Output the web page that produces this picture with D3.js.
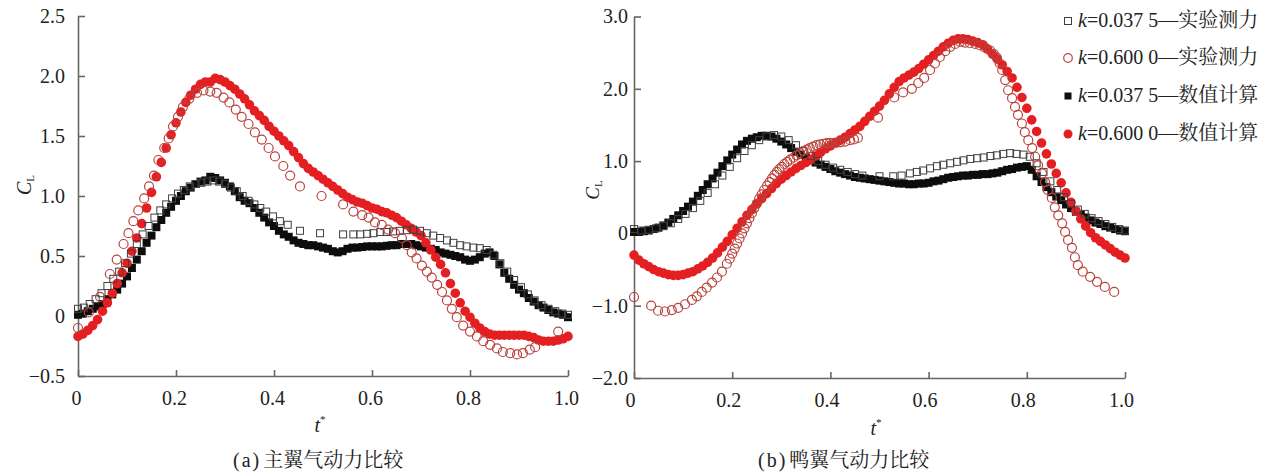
<!DOCTYPE html>
<html>
<head>
<meta charset="utf-8">
<script src="https://cdn.jsdelivr.net/npm/d3@7"></script>
<style>
  body { margin: 0; background: #fff; }
  svg { display: block; }
</style>
</head>
<body>
<svg id="chart" width="1283" height="473"></svg>
<script>
// ---- data -------------------------------------------------------------
// sampling instants of the numerical solution (t*)
const tGrid = [
  0.00, 0.01, 0.02, 0.03, 0.04, 0.05, 0.06, 0.07, 0.08, 0.09,
  0.10, 0.11, 0.12, 0.13, 0.14, 0.15, 0.16, 0.17, 0.18, 0.19,
  0.20, 0.21, 0.22, 0.23, 0.24, 0.25, 0.26, 0.27, 0.28, 0.29,
  0.30, 0.31, 0.32, 0.33, 0.34, 0.35, 0.36, 0.37, 0.38, 0.39,
  0.40, 0.41, 0.42, 0.43, 0.44, 0.45, 0.46, 0.47, 0.48, 0.49,
  0.50, 0.51, 0.52, 0.53, 0.54, 0.55, 0.56, 0.57, 0.58, 0.59,
  0.60, 0.61, 0.62, 0.63, 0.64, 0.65, 0.66, 0.67, 0.68, 0.69,
  0.70, 0.71, 0.72, 0.73, 0.74, 0.75, 0.76, 0.77, 0.78, 0.79,
  0.80, 0.81, 0.82, 0.83, 0.84, 0.85, 0.86, 0.87, 0.88, 0.89,
  0.90, 0.91, 0.92, 0.93, 0.94, 0.95, 0.96, 0.97, 0.98, 0.99,
  1.00
];

// (a) main wing, numerical, k = 0.0375
const mainNumLowK = [
  0.01, 0.02, 0.04, 0.06, 0.08, 0.10, 0.14, 0.18, 0.22, 0.27,
  0.33, 0.40, 0.47, 0.54, 0.61, 0.67, 0.74, 0.80, 0.86, 0.91,
  0.96, 1.00, 1.04, 1.07, 1.10, 1.12, 1.13, 1.16, 1.15, 1.13,
  1.11, 1.08, 1.04, 0.99, 0.96, 0.94, 0.90, 0.86, 0.82, 0.78,
  0.75, 0.71, 0.68, 0.66, 0.63, 0.61, 0.60, 0.59, 0.59, 0.58,
  0.57, 0.56, 0.54, 0.53, 0.54, 0.56, 0.57, 0.57, 0.575, 0.58,
  0.58, 0.58, 0.58, 0.585, 0.59, 0.59, 0.60, 0.60, 0.60, 0.59,
  0.58, 0.57, 0.56, 0.55, 0.53, 0.52, 0.51, 0.50, 0.49, 0.47,
  0.46, 0.47, 0.49, 0.52, 0.53, 0.50, 0.43, 0.36, 0.31, 0.26,
  0.22, 0.19, 0.15, 0.12, 0.09, 0.07, 0.05, 0.03, 0.02, 0.01,
  -0.01
];

// (a) main wing, numerical, k = 0.6000
const mainNumHighK = [
  -0.17, -0.15, -0.12, -0.08, -0.03, 0.04, 0.11, 0.19, 0.27, 0.36,
  0.44, 0.54, 0.65, 0.77, 0.90, 1.03, 1.16, 1.28, 1.40, 1.51,
  1.61, 1.70, 1.78, 1.84, 1.89, 1.93, 1.95, 1.95, 1.98, 1.97,
  1.95, 1.92, 1.89, 1.85, 1.81, 1.76, 1.71, 1.67, 1.63, 1.58,
  1.54, 1.50, 1.46, 1.42, 1.37, 1.32, 1.27, 1.23, 1.20, 1.17,
  1.14, 1.11, 1.08, 1.05, 1.02, 0.99, 0.97, 0.95, 0.94, 0.92,
  0.90, 0.89, 0.87, 0.86, 0.84, 0.82, 0.79, 0.76, 0.73, 0.70,
  0.67, 0.61, 0.55, 0.49, 0.43, 0.36, 0.27, 0.19, 0.11, 0.04,
  -0.01, -0.06, -0.10, -0.13, -0.15, -0.16, -0.16, -0.16, -0.16, -0.16,
  -0.16, -0.16, -0.17, -0.18, -0.20, -0.21, -0.21, -0.21, -0.20, -0.19,
  -0.17
];

// (a) main wing, measured, k = 0.0375   [t*, CL]
const mainExpLowK = [
  [0.000, 0.06], [0.012, 0.07], [0.024, 0.10], [0.036, 0.14], [0.048, 0.19],
  [0.060, 0.25], [0.072, 0.31], [0.084, 0.37], [0.096, 0.44], [0.108, 0.52],
  [0.120, 0.60], [0.132, 0.68], [0.144, 0.75], [0.156, 0.82], [0.168, 0.88],
  [0.180, 0.93], [0.192, 0.98], [0.204, 1.02], [0.216, 1.05], [0.228, 1.08],
  [0.240, 1.10], [0.252, 1.11], [0.264, 1.12], [0.276, 1.13], [0.288, 1.12],
  [0.300, 1.10], [0.312, 1.07], [0.324, 1.04], [0.336, 1.00], [0.348, 0.96],
  [0.360, 0.93], [0.372, 0.90], [0.384, 0.87], [0.398, 0.83], [0.412, 0.79],
  [0.428, 0.76], [0.453, 0.71], [0.494, 0.69], [0.541, 0.68], [0.562, 0.68],
  [0.576, 0.68], [0.590, 0.685], [0.603, 0.69], [0.617, 0.70], [0.630, 0.70],
  [0.643, 0.705], [0.657, 0.71], [0.671, 0.715], [0.684, 0.72], [0.698, 0.71],
  [0.712, 0.69], [0.725, 0.67], [0.739, 0.65], [0.753, 0.63], [0.766, 0.61],
  [0.780, 0.59], [0.793, 0.58], [0.807, 0.57], [0.820, 0.565], [0.834, 0.55],
  [0.848, 0.51], [0.862, 0.44], [0.876, 0.37], [0.890, 0.30], [0.904, 0.24],
  [0.918, 0.18], [0.932, 0.13], [0.946, 0.09], [0.960, 0.06], [0.974, 0.04],
  [0.988, 0.02], [1.000, 0.01]
];

// (a) main wing, measured, k = 0.6000   [t*, CL]
const mainExpHighK = [
  [0.000, -0.10], [0.022, 0.03], [0.045, 0.16], [0.065, 0.35], [0.079, 0.47],
  [0.093, 0.60], [0.103, 0.69], [0.113, 0.79], [0.123, 0.88], [0.135, 0.98],
  [0.145, 1.08], [0.155, 1.17], [0.164, 1.30], [0.176, 1.40], [0.185, 1.48],
  [0.194, 1.58], [0.204, 1.66], [0.214, 1.74], [0.227, 1.81], [0.243, 1.86],
  [0.256, 1.88], [0.270, 1.87], [0.283, 1.86], [0.297, 1.82], [0.309, 1.78],
  [0.322, 1.72], [0.334, 1.66], [0.348, 1.60], [0.361, 1.53], [0.375, 1.47],
  [0.389, 1.40], [0.402, 1.33], [0.419, 1.25], [0.433, 1.17], [0.453, 1.08],
  [0.497, 1.00], [0.541, 0.93], [0.562, 0.87], [0.580, 0.84], [0.593, 0.82],
  [0.606, 0.78], [0.620, 0.76], [0.633, 0.72], [0.647, 0.69], [0.661, 0.65],
  [0.671, 0.59], [0.681, 0.53], [0.691, 0.48], [0.702, 0.42], [0.712, 0.37],
  [0.722, 0.32], [0.733, 0.26], [0.743, 0.20], [0.753, 0.13], [0.763, 0.06],
  [0.773, -0.01], [0.786, -0.08], [0.800, -0.13], [0.814, -0.17], [0.827, -0.21],
  [0.841, -0.24], [0.855, -0.27], [0.867, -0.30], [0.882, -0.31], [0.896, -0.32],
  [0.908, -0.31], [0.922, -0.28], [0.933, -0.26], [0.980, -0.13]
];

// (b) canard, numerical, k = 0.0375
const canardNumLowK = [
  0.02, 0.02, 0.03, 0.04, 0.06, 0.08, 0.11, 0.15, 0.20, 0.25,
  0.31, 0.37, 0.44, 0.52, 0.60, 0.68, 0.76, 0.84, 0.93, 1.01,
  1.09, 1.16, 1.23, 1.28, 1.31, 1.33, 1.35, 1.35, 1.34, 1.31,
  1.27, 1.23, 1.18, 1.13, 1.09, 1.05, 1.01, 0.98, 0.95, 0.92,
  0.89, 0.86, 0.84, 0.82, 0.80, 0.78, 0.77, 0.76, 0.75, 0.74,
  0.73, 0.72, 0.71, 0.70, 0.69, 0.69, 0.68, 0.68, 0.69, 0.69,
  0.70, 0.72, 0.73, 0.75, 0.77, 0.78, 0.79, 0.80, 0.80, 0.81,
  0.81, 0.82, 0.82, 0.83, 0.84, 0.86, 0.88, 0.89, 0.91, 0.92,
  0.93, 0.88, 0.79, 0.71, 0.64, 0.57, 0.51, 0.46, 0.40, 0.35,
  0.30, 0.26, 0.22, 0.18, 0.15, 0.13, 0.10, 0.08, 0.06, 0.04,
  0.03
];

// (b) canard, numerical, k = 0.6000
const canardNumHighK = [
  -0.30, -0.37, -0.42, -0.46, -0.50, -0.53, -0.55, -0.57, -0.58, -0.58,
  -0.57, -0.55, -0.53, -0.49, -0.45, -0.40, -0.34, -0.27, -0.19, -0.11,
  -0.02, 0.07, 0.16, 0.25, 0.33, 0.41, 0.48, 0.55, 0.62, 0.69,
  0.75, 0.80, 0.85, 0.90, 0.94, 0.98, 1.02, 1.07, 1.12, 1.17,
  1.21, 1.25, 1.29, 1.33, 1.38, 1.43, 1.48, 1.55, 1.62, 1.69,
  1.76, 1.84, 1.93, 2.02, 2.10, 2.15, 2.19, 2.23, 2.28, 2.34,
  2.40, 2.46, 2.52, 2.58, 2.63, 2.67, 2.69, 2.69, 2.68, 2.66,
  2.64, 2.61, 2.55, 2.48, 2.41, 2.33, 2.24, 2.15, 2.02, 1.88,
  1.73, 1.57, 1.41, 1.25, 1.10, 0.96, 0.83, 0.70, 0.56, 0.43,
  0.31, 0.20, 0.10, 0.01, -0.06, -0.11, -0.16, -0.21, -0.26, -0.30,
  -0.34
];

// (b) canard, measured, k = 0.0375   [t*, CL]
const canardExpLowK = [
  [0.000, 0.06], [0.015, 0.04], [0.030, 0.05], [0.045, 0.07], [0.060, 0.10],
  [0.075, 0.14], [0.090, 0.20], [0.105, 0.27], [0.120, 0.35], [0.135, 0.45],
  [0.150, 0.56], [0.165, 0.68], [0.180, 0.80], [0.195, 0.92], [0.210, 1.04],
  [0.225, 1.14], [0.240, 1.22], [0.255, 1.29], [0.270, 1.34], [0.285, 1.36],
  [0.300, 1.34], [0.315, 1.29], [0.330, 1.22], [0.345, 1.14], [0.360, 1.07],
  [0.375, 1.00], [0.390, 0.95], [0.405, 0.91], [0.420, 0.88], [0.435, 0.85],
  [0.450, 0.82], [0.465, 0.80], [0.500, 0.79], [0.528, 0.79], [0.545, 0.80],
  [0.562, 0.83], [0.576, 0.85], [0.589, 0.87], [0.603, 0.90], [0.617, 0.93],
  [0.630, 0.95], [0.644, 0.97], [0.658, 0.99], [0.671, 1.01], [0.685, 1.03],
  [0.699, 1.04], [0.712, 1.05], [0.726, 1.07], [0.739, 1.08], [0.752, 1.10],
  [0.766, 1.11], [0.779, 1.10], [0.793, 1.09], [0.806, 1.06], [0.820, 0.97],
  [0.834, 0.85], [0.848, 0.72], [0.862, 0.60], [0.876, 0.50], [0.890, 0.41],
  [0.904, 0.33], [0.918, 0.27], [0.932, 0.21], [0.946, 0.17], [0.960, 0.13],
  [0.974, 0.09], [0.988, 0.06], [1.000, 0.04]
];

// (b) canard, measured, k = 0.6000   [t*, CL]
const canardExpHighK = [
  [0.000, -0.88], [0.035, -1.00], [0.049, -1.07], [0.063, -1.08], [0.077, -1.06],
  [0.090, -1.03], [0.104, -0.98], [0.118, -0.92], [0.128, -0.87], [0.138, -0.81],
  [0.148, -0.75], [0.159, -0.68], [0.169, -0.61], [0.179, -0.53], [0.189, -0.42],
  [0.195, -0.35], [0.200, -0.28], [0.205, -0.21], [0.210, -0.14], [0.215, -0.07],
  [0.220, 0.00], [0.225, 0.07], [0.230, 0.14], [0.235, 0.21], [0.240, 0.28],
  [0.245, 0.35], [0.250, 0.41], [0.255, 0.48], [0.260, 0.54], [0.265, 0.60],
  [0.271, 0.66], [0.276, 0.71], [0.281, 0.76], [0.286, 0.81], [0.291, 0.85],
  [0.296, 0.89], [0.301, 0.92], [0.306, 0.96], [0.312, 0.99], [0.318, 1.02],
  [0.325, 1.05], [0.331, 1.08], [0.338, 1.11], [0.345, 1.14], [0.352, 1.16],
  [0.358, 1.18], [0.365, 1.20], [0.372, 1.22], [0.379, 1.23], [0.386, 1.24],
  [0.393, 1.25], [0.399, 1.25], [0.405, 1.25], [0.412, 1.255], [0.420, 1.26],
  [0.430, 1.27], [0.440, 1.29], [0.448, 1.30], [0.456, 1.32], [0.497, 1.60],
  [0.530, 1.88], [0.548, 1.95], [0.566, 2.00], [0.579, 2.08], [0.591, 2.15],
  [0.603, 2.26], [0.613, 2.35], [0.623, 2.44], [0.634, 2.52], [0.644, 2.58],
  [0.654, 2.62], [0.664, 2.65], [0.674, 2.64], [0.684, 2.63], [0.695, 2.62],
  [0.705, 2.60], [0.715, 2.57], [0.725, 2.53], [0.733, 2.48], [0.739, 2.43],
  [0.745, 2.35], [0.750, 2.26], [0.756, 2.12], [0.762, 1.98], [0.770, 1.87],
  [0.776, 1.75], [0.782, 1.64], [0.790, 1.52], [0.796, 1.40], [0.803, 1.29],
  [0.811, 1.18], [0.817, 1.06], [0.823, 0.94], [0.831, 0.83], [0.837, 0.71],
  [0.843, 0.60], [0.851, 0.49], [0.857, 0.36], [0.864, 0.25], [0.872, 0.14],
  [0.878, 0.02], [0.884, -0.09], [0.892, -0.20], [0.898, -0.33], [0.904, -0.44],
  [0.914, -0.53], [0.929, -0.60], [0.943, -0.67], [0.959, -0.74], [0.978, -0.81]
];

// axis ticks and labels
const xTicks = [0, 0.2, 0.4, 0.6, 0.8, 1.0];
const xTickLabels = ["0", "0.2", "0.4", "0.6", "0.8", "1.0"];
const mainYTicks = [-0.5, 0, 0.5, 1.0, 1.5, 2.0, 2.5];
const mainYTickLabels = ["\u22120.5", "0", "0.5", "1.0", "1.5", "2.0", "2.5"];
const canardYTicks = [-2, -1, 0, 1, 2, 3];
const canardYTickLabels = ["\u22122.0", "\u22121.0", "0", "1.0", "2.0", "3.0"];

// legend entries
const legendKeys = ["expLow", "expHigh", "numLow", "numHigh"];
const legendK = ["0.037 5", "0.600 0", "0.037 5", "0.600 0"];
const legendKind = ["实验测力", "实验测力", "数值计算", "数值计算"];

// panel captions
const captionTags = ["(a)", "(b)"];
const captionTexts = ["主翼气动力比较", "鸭翼气动力比较"];

// ---- drawing ----------------------------------------------------------
const SERIF = "'Liberation Serif', 'Times New Roman', serif";
const CJK = "'Noto Serif CJK SC', 'Noto Sans CJK SC', sans-serif";
const AXIS = "#666";
const TEXT = "#222";

const STYLE = {
  expLow:  { shape: "square", fill: "none",    stroke: "#404040", sw: 1.0, size: 7 },
  expHigh: { shape: "circle", fill: "none",    stroke: "#b9443e", sw: 1.2, size: 4.5 },
  numLow:  { shape: "square", fill: "#0d0d0d", stroke: "none",    sw: 0,   size: 8 },
  numHigh: { shape: "circle", fill: "#e41f22", stroke: "none",    sw: 0,   size: 4.8 }
};
const LEGEND_SIZE = { expLow: 7, expHigh: 4.3, numLow: 7, numHigh: 4.5 };

const svg = d3.select("#chart");

function drawMarkers(g, pts, key) {
  const s = STYLE[key];
  if (s.shape === "circle") {
    g.append("g").selectAll("circle").data(pts).join("circle")
      .attr("cx", d => d[0]).attr("cy", d => d[1]).attr("r", s.size)
      .attr("fill", s.fill).attr("stroke", s.stroke).attr("stroke-width", s.sw);
  } else {
    g.append("g").selectAll("rect").data(pts).join("rect")
      .attr("x", d => d[0] - s.size / 2).attr("y", d => d[1] - s.size / 2)
      .attr("width", s.size).attr("height", s.size)
      .attr("fill", s.fill).attr("stroke", s.stroke).attr("stroke-width", s.sw);
  }
}

function drawPanel(cfg) {
  const x = d3.scaleLinear().domain([0, 1]).range(cfg.xRange);
  const y = d3.scaleLinear().domain(cfg.yDomain).range(cfg.yRange);
  const g = svg.append("g");

  // axes: ticks point into the plot area
  const yAxis = d3.axisLeft(y)
    .tickValues(cfg.yTicks)
    .tickFormat((d, i) => cfg.yTickLabels[i])
    .tickSizeInner(-7).tickSizeOuter(0).tickPadding(cfg.yPad);
  const xAxis = d3.axisBottom(x)
    .tickValues(xTicks)
    .tickFormat((d, i) => xTickLabels[i])
    .tickSizeInner(-6).tickSizeOuter(0).tickPadding(15);

  const ya = g.append("g").attr("transform", `translate(${cfg.xRange[0]},0)`).call(yAxis);
  const xa = g.append("g").attr("transform", `translate(0,${cfg.yRange[0]})`).call(xAxis);
  [ya, xa].forEach(a => {
    a.select(".domain").attr("stroke", AXIS).attr("stroke-width", 1.6);
    a.selectAll(".tick line").attr("stroke", AXIS).attr("stroke-width", 1.6);
    a.selectAll(".tick text").attr("fill", TEXT)
      .style("font-family", SERIF).style("font-size", "20px");
  });
  xa.selectAll(".tick text").attr("dx", cfg.xLabelShift);

  // series: numerical bands first, measured markers on top
  drawMarkers(g, cfg.numLow.map((v, i) => [x(tGrid[i]), y(v)]), "numLow");
  drawMarkers(g, cfg.numHigh.map((v, i) => [x(tGrid[i]), y(v)]), "numHigh");
  drawMarkers(g, cfg.expLow.map(d => [x(d[0]), y(d[1])]), "expLow");
  drawMarkers(g, cfg.expHigh.map(d => [x(d[0]), y(d[1])]), "expHigh");

  // y title C_L (rotated)
  const yt = g.append("text")
    .attr("transform", `translate(${cfg.yTitle[0]},${cfg.yTitle[1]}) rotate(-90)`)
    .attr("text-anchor", "middle").attr("fill", TEXT)
    .style("font-family", SERIF).style("font-size", cfg.yTitleSize + "px");
  yt.append("tspan").style("font-style", "italic").text("C");
  yt.append("tspan").attr("dy", 3).style("font-size", "11px").text("L");

  // x title t*
  const xt = g.append("text")
    .attr("x", cfg.xTitle[0]).attr("y", cfg.xTitle[1])
    .attr("text-anchor", "middle").attr("fill", TEXT)
    .style("font-family", SERIF).style("font-size", "20px");
  xt.append("tspan").style("font-style", "italic").text("t");
  xt.append("tspan").attr("dy", -9).style("font-size", "11px").text("*");

  // caption
  const cap = g.append("text")
    .attr("x", cfg.caption[0]).attr("y", cfg.caption[1])
    .attr("fill", TEXT).style("font-size", "20px");
  cap.append("tspan").style("font-family", SERIF).attr("letter-spacing", "2px").text(cfg.captionTag);
  cap.append("tspan").style("font-family", CJK).attr("dx", 2).text(cfg.captionText);
}

drawPanel({
  xRange: [78, 568], yDomain: [-0.5, 2.5], yRange: [376, 16],
  yTicks: mainYTicks, yTickLabels: mainYTickLabels, yPad: 13, xLabelShift: -2,
  numLow: mainNumLowK, numHigh: mainNumHighK, expLow: mainExpLowK, expHigh: mainExpHighK,
  yTitle: [31, 185], yTitleSize: 20, xTitle: [320, 432],
  caption: [233, 467], captionTag: captionTags[0], captionText: captionTexts[0]
});

drawPanel({
  xRange: [634, 1125], yDomain: [-2, 3], yRange: [378, 16.5],
  yTicks: canardYTicks, yTickLabels: canardYTickLabels, yPad: 6, xLabelShift: -4,
  numLow: canardNumLowK, numHigh: canardNumHighK, expLow: canardExpLowK, expHigh: canardExpHighK,
  yTitle: [599, 190], yTitleSize: 19, xTitle: [876, 435],
  caption: [758, 467], captionTag: captionTags[1], captionText: captionTexts[1]
});

// legend
const legend = svg.append("g");
const rowY = [20, 57, 95, 133];
legendKeys.forEach((key, i) => {
  const s = STYLE[key];
  const sz = LEGEND_SIZE[key];
  const cx = 1068, cy = rowY[i] + 1;
  if (s.shape === "circle") {
    legend.append("circle").attr("cx", cx).attr("cy", cy).attr("r", sz)
      .attr("fill", s.fill).attr("stroke", s.stroke).attr("stroke-width", s.sw);
  } else {
    legend.append("rect").attr("x", cx - sz / 2).attr("y", cy - sz / 2)
      .attr("width", sz).attr("height", sz)
      .attr("fill", s.fill).attr("stroke", s.stroke).attr("stroke-width", s.sw);
  }
  const t = legend.append("text").attr("x", 1078).attr("y", rowY[i] + 7)
    .attr("fill", TEXT).style("font-family", SERIF).style("font-size", "20px");
  t.append("tspan").style("font-style", "italic").text("k");
  t.append("tspan").text("=" + legendK[i] + "\u2014");
  t.append("tspan").style("font-family", CJK).text(legendKind[i]);
});
</script>
</body>
</html>
